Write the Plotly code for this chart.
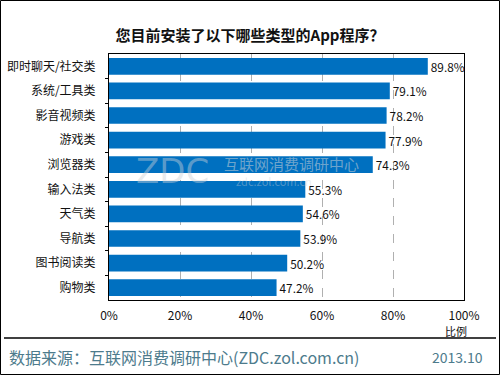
import plotly.graph_objects as go

categories = ["即时聊天/社交类", "系统/工具类", "影音视频类", "游戏类", "浏览器类",
              "输入法类", "天气类", "导航类", "图书阅读类", "购物类"]
values = [89.8, 79.1, 78.2, 77.9, 74.3, 55.3, 54.6, 53.9, 50.2, 47.2]
x_ticks = [0, 20, 40, 60, 80, 100]
x_tick_labels = ["0%", "20%", "40%", "60%", "80%", "100%"]

FONT = "Noto Sans CJK SC"
W, H = 500, 375
L, R, T, B = 109, 36, 54, 75
pw, ph = W - L - R, H - T - B

fig = go.Figure()
fig.add_trace(go.Bar(
    x=values, y=categories, orientation="h",
    marker=dict(color="#0070C0", line=dict(width=0)),
    text=[f"{v:.1f}%" for v in values], textposition="outside",
    textfont=dict(family=FONT, size=12, color="#111111"),
    cliponaxis=False, width=0.68, hoverinfo="skip",
))
fig.add_trace(go.Scatter(x=[0], y=[0], yaxis="y2", mode="markers",
                         marker=dict(opacity=0), showlegend=False, hoverinfo="skip"))

fig.update_layout(
    width=W, height=H, margin=dict(l=L, r=R, t=T, b=B, autoexpand=False),
    paper_bgcolor="white", plot_bgcolor="white", showlegend=False,
    xaxis=dict(range=[0, 100], tickvals=x_ticks, ticktext=x_tick_labels, automargin=False,
               ticklabelstandoff=5,
               showgrid=True, gridcolor="#b0b0b0", griddash="dash", gridwidth=1,
               zeroline=False, showline=True, linecolor="black", linewidth=1, mirror=True,
               ticks="", tickfont=dict(family=FONT, size=12, color="#111111"),
               fixedrange=True),
    yaxis=dict(categoryorder="array", categoryarray=categories, autorange="reversed",
               automargin=False, ticklabelstandoff=10,
               showline=True, linecolor="black", linewidth=1, mirror=True,
               ticks="", ticklen=0, showgrid=False,
               tickfont=dict(family=FONT, size=12, color="#111111")),
    yaxis2=dict(overlaying="y", range=[9.5, -0.5], tickvals=[i + 0.5 for i in range(9)],
                automargin=False,
                ticks="outside", ticklen=3, tickcolor="black", showticklabels=False,
                showgrid=False, zeroline=False, side="left", showline=False),
    title=dict(text="<b>您目前安装了以下哪些类型的App程序？</b>", x=0.5, xanchor="center",
               y=1 - 36 / H, yanchor="middle", automargin=False,
               font=dict(family=FONT, size=15, color="#111111")),
)

def px_x(x):
    return (x - L) / pw

def px_y(y):
    return 1 - (y - T) / ph

fig.add_shape(type="rect", xref="paper", yref="paper",
              x0=px_x(0.5), x1=px_x(W - 0.5), y0=px_y(H - 0.5), y1=px_y(0.5),
              line=dict(color="black", width=1))
fig.add_shape(type="line", xref="paper", yref="paper",
              x0=px_x(4), x1=px_x(496), y0=px_y(338), y1=px_y(338),
              line=dict(color="black", width=1.5))

def note(text, x, y, size, color, family=FONT, xanchor="center"):
    fig.add_annotation(text=text, xref="paper", yref="paper", x=px_x(x), y=px_y(y),
                       xanchor=xanchor, yanchor="middle", showarrow=False,
                       font=dict(family=family, size=size, color=color))

note("比例", 456, 330.5, 11, "#111111")
note("数据来源：互联网消费调研中心(ZDC.zol.com.cn)", 7, 357, 16, "#4d7b8c", xanchor="left")
note("2013.10", 485, 357, 14, "#4d7b8c", xanchor="right")
# watermark
note("ZDC", 172, 171, 34, "rgba(205,210,215,0.45)", family="DejaVu Sans")
note("互联网消费调研中心", 291, 163, 15, "rgba(205,210,215,0.55)")
note("zdc.zol.com.cn", 274, 181, 11, "rgba(205,210,215,0.4)")

fig.write_html("out.html", config={"displayModeBar": False},
               post_script="document.body.style.margin='0';document.body.style.padding='0';")
